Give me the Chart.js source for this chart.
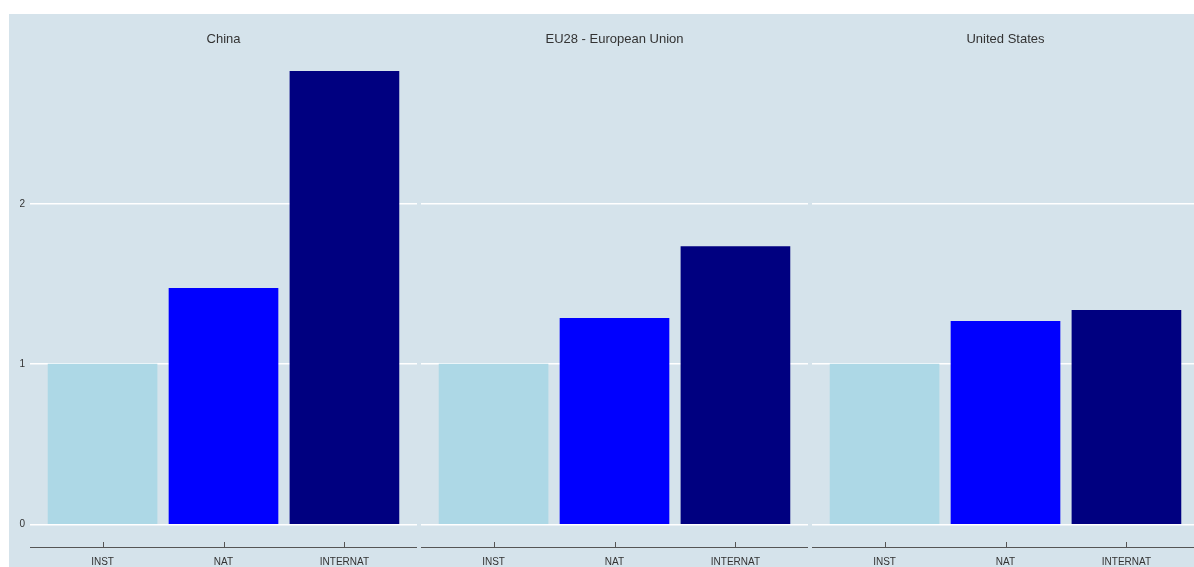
<!DOCTYPE html>
<html lang="en">
<head>
  <meta charset="UTF-8">
  <title>INST / NAT / INTERNAT by region</title>
  <script src="https://cdn.jsdelivr.net/npm/chart.js"></script>
  <style>
    body {
      margin: 0;
      background: #ffffff;
      overflow: hidden;
      font-family: "Liberation Sans", Arial, sans-serif;
    }
    #panel {
      position: absolute;
      left: 9px;
      top: 14px;
      width: 1200px;
      height: 560px;
      background: #d5e3eb;
    }
    .facet {
      position: absolute;
      top: 14px;
      height: 553px;
    }
  </style>
</head>
<body>
  <div id="panel"></div>
  <div class="facet" style="left:9px;width:408px"><canvas id="c0"></canvas></div>
  <div class="facet" style="left:421px;width:387px"><canvas id="c1"></canvas></div>
  <div class="facet" style="left:812px;width:387px"><canvas id="c2"></canvas></div>

  <script>
    // data
    const regions = ['China', 'EU28 - European Union', 'United States'];
    const categories = ['INST', 'NAT', 'INTERNAT'];
    const chinaValues = [1, 1.472, 2.827];
    const euValues = [1, 1.286, 1.733];
    const usValues = [1, 1.267, 1.335];
    const yTicks = [0, 1, 2];

    const barColors = ['#add8e6', '#0000ff', '#000080'];
    const allValues = [chinaValues, euValues, usValues];

    // ggplot-like expansion: 5% of range on y, 0.6 units on x
    const yMaxData = Math.max(...chinaValues, ...euValues, ...usValues);
    const yPad = yMaxData * 0.05;

    // small ticks pointing up from the bottom axis line
    const upTicks = {
      id: 'upTicks',
      afterDraw(chart) {
        const x = chart.scales.x;
        const c = chart.ctx;
        c.save();
        c.strokeStyle = '#555555';
        c.lineWidth = 1;
        categories.forEach((_, i) => {
          const px = Math.round(x.getPixelForValue(i)) + 0.5;
          c.beginPath();
          c.moveTo(px, x.top - 5);
          c.lineTo(px, x.top);
          c.stroke();
        });
        c.restore();
      }
    };

    function makeChart(idx) {
      const showY = idx === 0;
      return new Chart(document.getElementById('c' + idx), {
        type: 'bar',
        data: {
          datasets: [{
            data: allValues[idx].map((v, i) => ({ x: i, y: v })),
            backgroundColor: barColors,
            borderWidth: 0,
            barThickness: 109
          }]
        },
        options: {
          responsive: true,
          maintainAspectRatio: false,
          animation: false,
          layout: { padding: 0 },
          plugins: {
            legend: { display: false },
            tooltip: { enabled: false },
            title: {
              display: true,
              fullSize: false,
              text: regions[idx],
              color: '#333333',
              font: { family: '"Liberation Sans", Arial, sans-serif', size: 13, weight: 'normal' },
              padding: { top: 18, bottom: 1 }
            }
          },
          scales: {
            x: {
              type: 'linear',
              offset: false,
              min: -0.6,
              max: 2.6,
              afterBuildTicks: s => { s.ticks = categories.map((_, i) => ({ value: i })); },
              afterFit: s => { s.height = 20; },
              ticks: {
                callback: v => categories[v],
                color: '#333333',
                font: { family: '"Liberation Sans", Arial, sans-serif', size: 10 },
                padding: 9,
                maxRotation: 0,
                autoSkip: false
              },
              grid: { display: false, drawTicks: false },
              border: { display: true, color: '#555555', width: 1 }
            },
            y: {
              min: -yPad,
              max: yMaxData + yPad,
              afterBuildTicks: s => { s.ticks = yTicks.map(v => ({ value: v })); },
              afterFit: s => { s.width = showY ? 21 : 0; },
              ticks: {
                display: showY,
                color: '#333333',
                font: { family: '"Liberation Sans", Arial, sans-serif', size: 10 },
                padding: 5
              },
              grid: { color: '#ffffff', lineWidth: 1.5, drawTicks: false },
              border: { display: false }
            }
          }
        },
        plugins: [upTicks]
      });
    }

    regions.forEach((_, i) => makeChart(i));
  </script>
</body>
</html>
